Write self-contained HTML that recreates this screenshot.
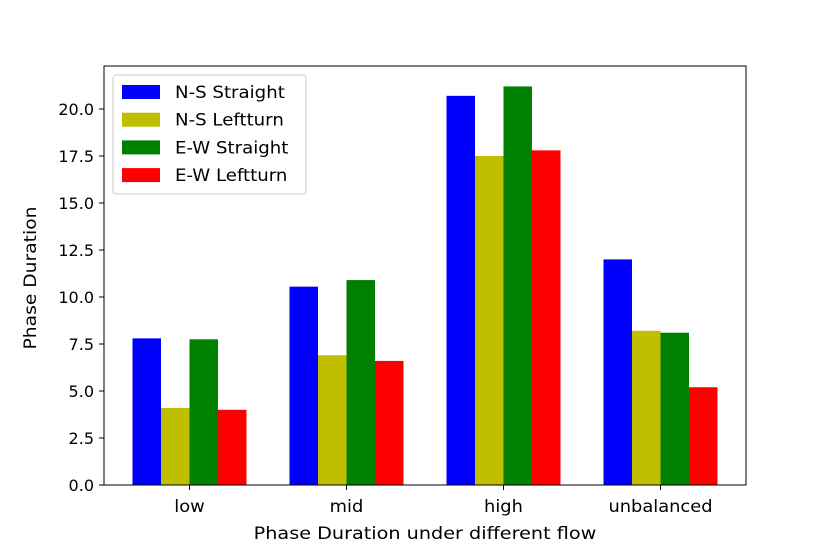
<!DOCTYPE html>
<html><head><meta charset="utf-8"><style>
body{margin:0;background:#fff;}
svg text{font-family:"DejaVu Sans","Liberation Sans",sans-serif;fill:#000;}
</style></head><body>
<svg id="chart" width="830" height="554" xmlns="http://www.w3.org/2000/svg">
<rect x="0" y="0" width="830" height="554" fill="#fff"/>
<g id="bars"></g>
<g id="axes"></g>
</svg>
<script>
const categories = ["low", "mid", "high", "unbalanced"];
const seriesNames = ["N-S Straight", "N-S Leftturn", "E-W Straight", "E-W Leftturn"];
const nsStraight = [7.8, 10.55, 20.7, 12.0];
const nsLeft = [4.1, 6.9, 17.5, 8.2];
const ewStraight = [7.75, 10.9, 21.2, 8.1];
const ewLeft = [4.0, 6.6, 17.8, 5.2];
const yTicks = [0, 2.5, 5, 7.5, 10, 12.5, 15, 17.5, 20];
const yTickLabels = ["0.0", "2.5", "5.0", "7.5", "10.0", "12.5", "15.0", "17.5", "20.0"];

const series = [nsStraight, nsLeft, ewStraight, ewLeft];
const colors = ["#0000ff", "#bfbf00", "#008000", "#ff0000"];
const L = 104, R = 746, T = 66, B = 485;
const yScale = v => B - v * 18.8;
const groupCenter = i => 189.5 + i * 157;
const barW = 28.5;
const NS = "http://www.w3.org/2000/svg";
function mk(tag, attrs, parent) {
  const e = document.createElementNS(NS, tag);
  for (const k in attrs) e.setAttribute(k, attrs[k]);
  parent.appendChild(e);
  return e;
}
function stretch(t, f) {
  const w = t.getComputedTextLength();
  t.setAttribute("textLength", w * f);
  t.setAttribute("lengthAdjust", "spacingAndGlyphs");
}
const bars = document.getElementById("bars");
const axes = document.getElementById("axes");
series.forEach((s, si) => {
  s.forEach((v, ci) => {
    const x = groupCenter(ci) - 2 * barW + si * barW;
    const r = mk("rect", {x: x, y: yScale(v), width: barW, height: B - yScale(v), fill: colors[si]}, bars);
    
    
  });
});
const frame = mk("rect", {x: L, y: T, width: R - L, height: B - T, fill: "none", stroke: "#000", "stroke-width": 1}, axes);


yTicks.forEach((t, i) => {
  const y = yScale(t);
  mk("line", {x1: L - 5, x2: L, y1: y, y2: y, stroke: "#000"}, axes);
  const tx = mk("text", {x: L - 10, y: y + 6, "text-anchor": "end", "font-size": 16}, axes);
  tx.textContent = yTickLabels[i];
  
  
});
categories.forEach((c, i) => {
  const x = groupCenter(i);
  mk("line", {x1: x, x2: x, y1: B, y2: B + 5, stroke: "#000"}, axes);
  const tx = mk("text", {x: x, y: B + 27, "text-anchor": "middle", "font-size": 16.5}, axes);
  tx.textContent = c;
  
  
  stretch(tx, 1.08);
});
const xt = mk("text", {x: 425, y: 539, "text-anchor": "middle", "font-size": 17}, axes);
xt.textContent = "Phase Duration under different flow";


stretch(xt, 1.13);
const yt = mk("text", {x: 0, y: 0, "text-anchor": "middle", "font-size": 17, transform: "translate(36,278) rotate(-90)"}, axes);
yt.textContent = "Phase Duration";


stretch(yt, 1.1);
const lg = mk("g", {}, axes);


mk("rect", {x: 113, y: 75, width: 193, height: 119, rx: 3, fill: "#fff", "fill-opacity": 0.8, stroke: "#ccc"}, lg);
seriesNames.forEach((n, i) => {
  const y = 92 + i * 27.7;
  const p = mk("rect", {x: 122, y: y - 7, width: 38, height: 14, fill: colors[i]}, lg);
  
  
  const t = mk("text", {x: 175, y: y + 6, "font-size": 16.5}, lg);
  t.textContent = n;
  
  
  stretch(t, 1.1);
});
</script>
</body></html>
